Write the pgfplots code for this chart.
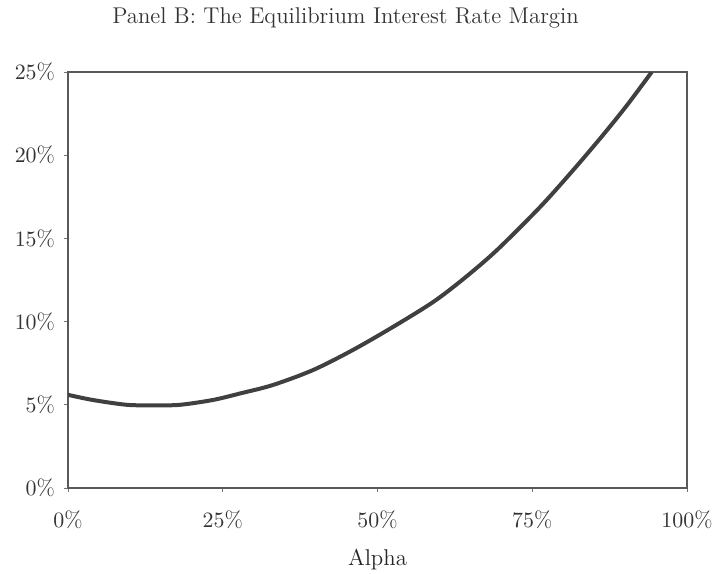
\documentclass[border=0pt]{standalone}
\usepackage{pgfplots}
\pgfplotsset{compat=1.18}
\begin{document}
\begin{tikzpicture}
\begin{axis}[
  scale only axis,
  width=309.5pt, height=208pt,
  xmin=0, xmax=100, ymin=0, ymax=25,
  xtick={0,25,50,75,100},
  ytick={0,5,10,15,20,25},
  xticklabel={\pgfmathprintnumber{\tick}\%},
  yticklabel={\pgfmathprintnumber{\tick}\%},
  tick align=outside,
  major tick length=2pt,
  xtick pos=bottom, ytick pos=left,
  axis line style={black!65, line width=0.8pt},
  tick style={black!55, line width=0.5pt},
  every tick label/.style={black!80, font=\fontsize{11.2}{13}\selectfont},
  xticklabel style={yshift=-6pt},
  yticklabel style={xshift=-1pt},
  xlabel={Alpha},
  xlabel style={black!85, font=\fontsize{11.4}{13}\selectfont, yshift=-3pt},
  clip=true,
]
\addplot[black!75, line width=2pt, smooth] coordinates {
(0,5.6) (4,5.29) (9.5,5.0) (14,4.97) (18.1,5.0) (23.4,5.29) (28,5.7) (33.1,6.19)
(39.6,7.09) (46,8.29) (52.5,9.68) (59,11.18) (64,12.6) (69.3,14.3) (76.3,16.9)
(81.6,19.1) (86.4,21.2) (90.3,23.0) (94.3,25.0)
};
\end{axis}
\node[black!80, anchor=center, font=\fontsize{11.4}{13}\selectfont] at ([xshift=-16pt, yshift=27pt]current axis.north) {Panel B: The Equilibrium Interest Rate Margin};
\pgfresetboundingbox
\path[use as bounding box] ([xshift=-34pt,yshift=-42.5pt]current axis.south west) rectangle ([xshift=14pt,yshift=36pt]current axis.north east);
\end{tikzpicture}
\end{document}
